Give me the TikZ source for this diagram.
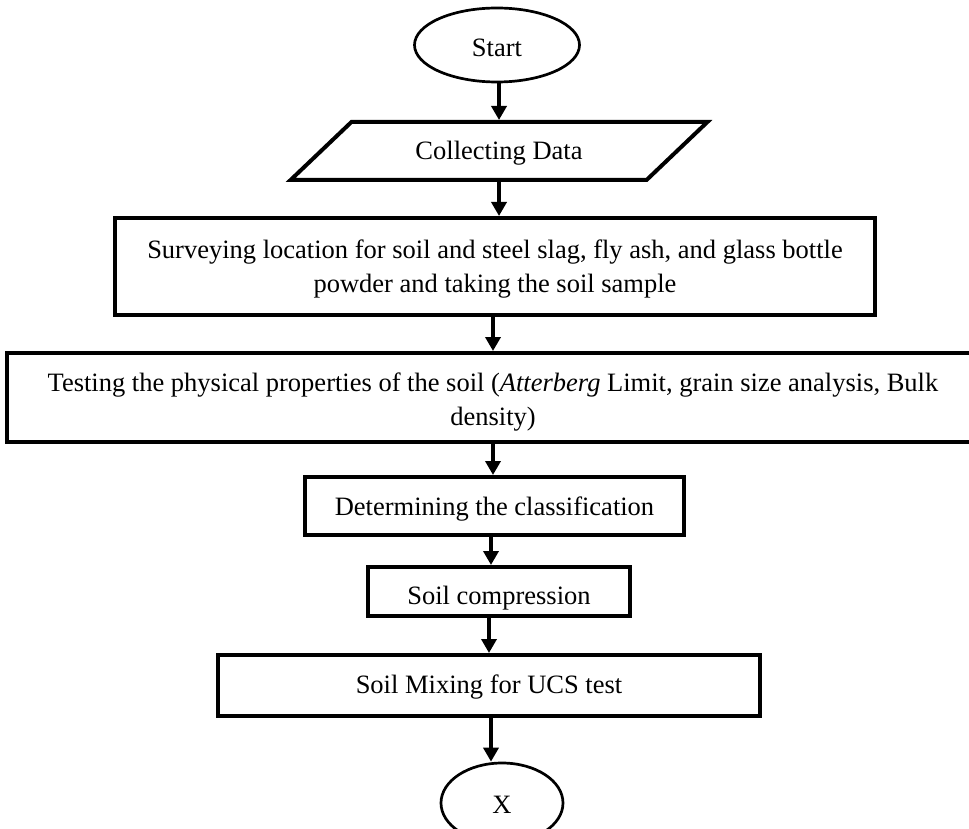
\documentclass[tikz,border=0pt]{standalone}
\usepackage{fontspec}
\setmainfont{Liberation Serif}
\usetikzlibrary{shapes.geometric,arrows.meta,calc}
\newcommand{\lowtxt}[2]{\raisebox{-#1}[\height][\depth]{#2}}
\begin{document}
\begin{tikzpicture}[x=1pt,y=-1pt,
  txt/.style={font=\fontsize{26.5}{34}\selectfont},
  box/.style={txt,draw,line width=4pt,rectangle,inner sep=0pt,align=center},
  oval/.style={txt,draw,line width=2.7pt,ellipse,inner sep=0pt},
  para/.style={txt,draw,line width=4pt,trapezium,trapezium left angle=35,trapezium right angle=145,trapezium stretches=true,inner sep=0pt},
  arr/.style={line width=3.5pt,-{Triangle[length=14pt,width=15pt]}}]
\useasboundingbox (0,0) rectangle (969,829);
\node[oval,minimum width=165pt,minimum height=74pt] (start) at (497,45) {\lowtxt{3pt}{Start}};
\node[para,minimum width=418pt,minimum height=58pt] (collect) at (499,151) {\lowtxt{2pt}{Collecting Data}};
\node[box,minimum width=760pt,minimum height=97pt] (survey) at (495,266.5)
  {\lowtxt{2pt}{\begin{tabular}{@{}c@{}}Surveying location for soil and steel slag, fly ash, and glass bottle\\powder and taking the soil sample\end{tabular}}};
\node[box,minimum width=972pt,minimum height=89pt] (test) at (493,397.5)
  {\lowtxt{4.5pt}{\begin{tabular}{@{}c@{}}Testing the physical properties of the soil (\textit{Atterberg} Limit, grain size analysis, Bulk\\density)\end{tabular}}};
\node[box,minimum width=379pt,minimum height=58pt] (classif) at (494.5,506) {\lowtxt{3.5pt}{Determining the classification}};
\node[box,minimum width=262pt,minimum height=49pt] (compress) at (499,591.5) {\lowtxt{7pt}{Soil compression}};
\node[box,minimum width=542pt,minimum height=61pt] (mixing) at (489,685.5) {\lowtxt{2pt}{Soil Mixing for UCS test}};
\node[oval,minimum width=122pt,minimum height=80pt] (xend) at (502,803) {\lowtxt{1.5pt}{X}};
\draw[arr] (collect.north |- start.south) -- (collect.north);
\draw[arr] (collect.south) -- (collect.south |- survey.north);
\draw[arr] (test.north |- survey.south) -- (test.north);
\draw[arr] (test.south) -- (test.south |- classif.north);
\draw[arr] ([xshift=-3.5pt]classif.south) -- ([xshift=-3.5pt]classif.south |- compress.north);
\draw[arr] (mixing.north |- compress.south) -- (mixing.north);
\draw[arr] ([xshift=2pt]mixing.south) -- ([xshift=2pt]mixing.south |- xend.north);
\end{tikzpicture}
\end{document}
